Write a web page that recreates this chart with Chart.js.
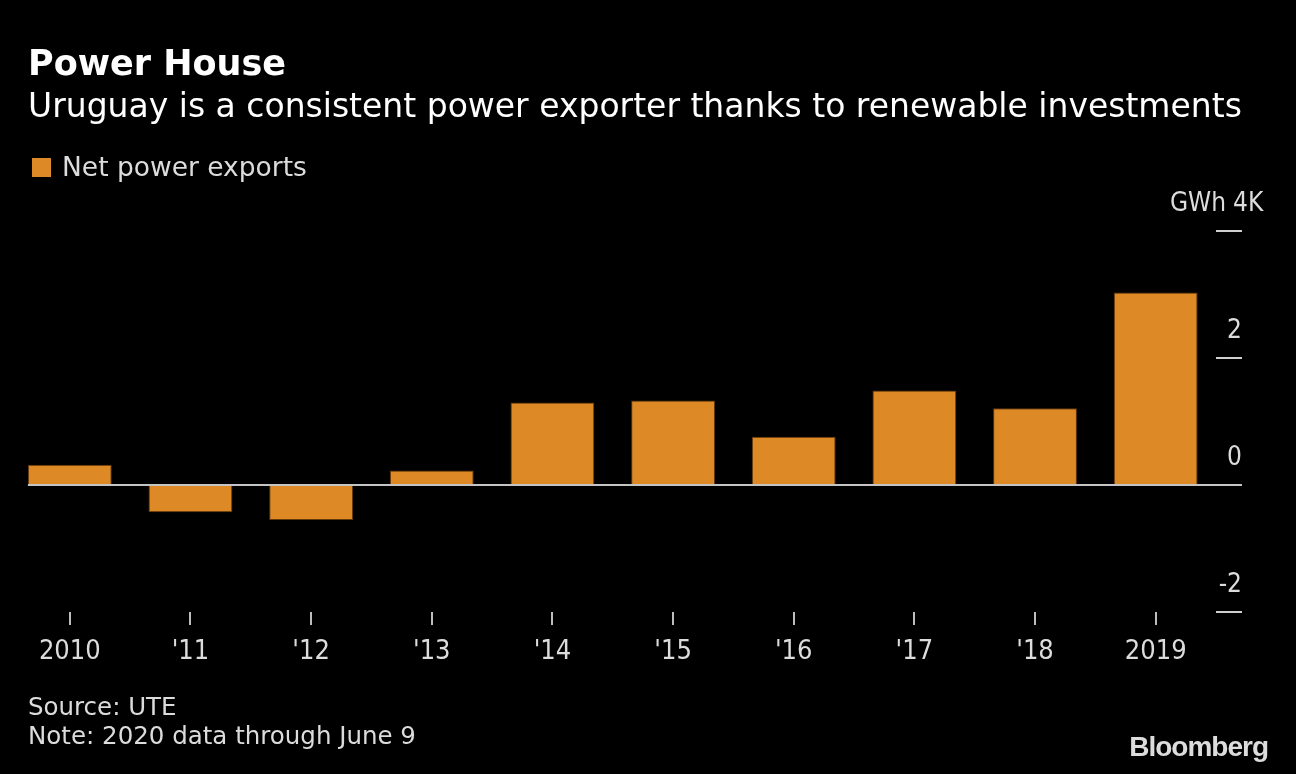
<!DOCTYPE html>
<html>
<head>
<meta charset="utf-8">
<script src="https://cdn.jsdelivr.net/npm/chart.js@4.4.1/dist/chart.umd.min.js"></script>
<style>
  html, body { margin: 0; padding: 0; background: #000; }
  #wrap { position: relative; width: 1296px; height: 774px; overflow: hidden; background: #000;
          font-family: "DejaVu Sans", sans-serif; color: #dcdcdc; }
  #chart { position: absolute; left: 0; top: 0; }
  .t { position: absolute; white-space: nowrap; line-height: 1; }
  #title { left: 28px; top: 46px; font-weight: bold; font-size: 35px; color: #fff; }
  #subtitle { left: 28px; top: 89px; font-size: 33px; color: #fff; }
  #legendBox { position: absolute; left: 32px; top: 158px; width: 19px; height: 19px; background: #dd8a26; }
  #legendText { left: 62px; top: 154px; font-size: 26.5px; }
  #source { left: 28px; top: 695px; font-size: 24.5px; }
  #note { left: 28px; top: 724px; font-size: 24.5px; }
  #logo { right: 28px; top: 733px; font-family: "Liberation Sans", Arial, sans-serif; font-weight: bold;
          font-size: 28px; letter-spacing: -1px; color: #dcdcdc; }
</style>
</head>
<body>
<div id="wrap">
  <canvas id="chart" width="1296" height="774"></canvas>
  <div class="t" id="title">Power House</div>
  <div class="t" id="subtitle">Uruguay is a consistent power exporter thanks to renewable investments</div>
  <div id="legendBox"></div>
  <div class="t" id="legendText">Net power exports</div>
  <div class="t" id="source">Source: UTE</div>
  <div class="t" id="note">Note: 2020 data through June 9</div>
  <div class="t" id="logo">Bloomberg</div>
</div>
<script>
const years = ['2010', "'11", "'12", "'13", "'14", "'15", "'16", "'17", "'18", '2019'];
const netExports = [0.32, -0.43, -0.55, 0.23, 1.30, 1.33, 0.76, 1.49, 1.21, 3.03];
const yMin = -2;
const yMax = 4;
const yStep = 2;
const unitLabel = 'GWh';

const ORANGE = '#dd8a26';
const TEXT = '#dcdcdc';
const FONT = '"DejaVu Sans Condensed", "DejaVu Sans", sans-serif';

// zero line + top tick label with unit
const extras = {
  id: 'extras',
  afterDatasetsDraw(chart) {
    const { ctx, scales: { y } } = chart;
    const bar0 = chart.getDatasetMeta(0).data[0];
    const y0 = y.getPixelForValue(0);
    ctx.save();
    ctx.strokeStyle = '#c4c4c4';
    ctx.lineWidth = 2;
    ctx.beginPath();
    ctx.moveTo(bar0.x - bar0.width / 2, y0);
    ctx.lineTo(y.right, y0);
    ctx.stroke();

    const yTop = y.getPixelForValue(yMax) - 27;
    ctx.font = `26px ${FONT}`;
    ctx.fillStyle = TEXT;
    ctx.textBaseline = 'middle';
    ctx.textAlign = 'left';
    ctx.fillText(`${yMax}K`, y.right - 9, yTop);
    ctx.textAlign = 'right';
    ctx.fillText(unitLabel, y.right - 16, yTop);
    ctx.restore();
  }
};

new Chart(document.getElementById('chart'), {
  type: 'bar',
  data: {
    labels: years,
    datasets: [{
      label: 'Net power exports',
      data: netExports,
      backgroundColor: ORANGE,
      borderColor: 'rgba(110,62,12,0.9)',
      borderWidth: 1,
      barPercentage: 0.695,
      categoryPercentage: 1
    }]
  },
  options: {
    responsive: false,
    animation: false,
    layout: { padding: { left: 9.5, right: 54, top: 231, bottom: 102 } },
    plugins: { legend: { display: false }, tooltip: { enabled: false } },
    scales: {
      x: {
        grid: { offset: false, drawOnChartArea: false, drawTicks: true, tickLength: 13, color: '#bdbdbd', lineWidth: 2 },
        border: { display: false },
        ticks: { color: TEXT, font: { family: FONT, size: 27 }, padding: 11, maxRotation: 0, autoSkip: false },
        afterFit(scale) { scale.height = 60; scale.paddingLeft = 0; scale.paddingRight = 0; }
      },
      y: {
        position: 'right',
        min: yMin,
        max: yMax,
        grid: { drawOnChartArea: false, drawTicks: true, tickLength: 26, color: '#cfcfcf', lineWidth: 2 },
        border: { display: false },
        ticks: {
          stepSize: yStep,
          color: TEXT,
          font: { family: FONT, size: 26 },
          labelOffset: -27,
          crossAlign: 'far',
          padding: 0,
          callback: (v) => (v === yMax ? '' : String(v))
        },
        afterFit(scale) { scale.width = 26; scale.paddingTop = 0; scale.paddingBottom = 0; }
      }
    }
  },
  plugins: [extras]
});
</script>
</body>
</html>
